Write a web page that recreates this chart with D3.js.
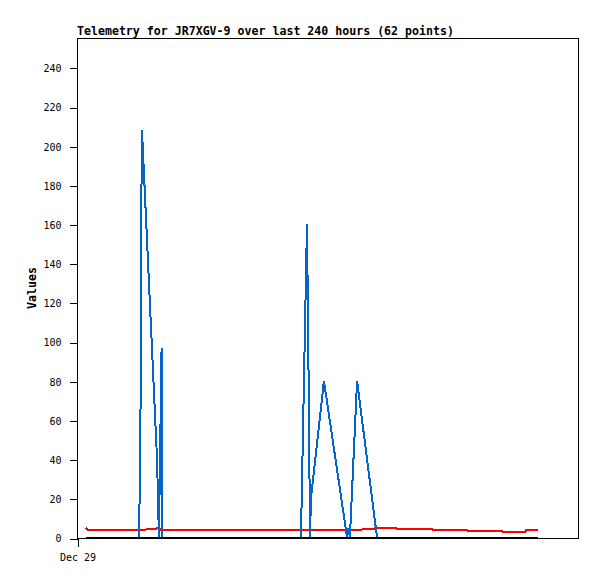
<!DOCTYPE html>
<html>
<head>
<meta charset="utf-8">
<script src="https://cdn.jsdelivr.net/npm/d3@7"></script>
<style>
  body { margin: 0; background: #fff; }
  svg { display: block; }
  text { font-family: "DejaVu Sans Mono", monospace; }
</style>
</head>
<body>
<svg id="chart" width="597" height="579"></svg>
<script>
// series: hours after Dec 29 00:00 and values
const titleText = "Telemetry for JR7XGV-9 over last 240 hours (62 points)";
const yLabel = "Values";
const yTicks = [0, 20, 40, 60, 80, 100, 120, 140, 160, 180, 200, 220, 240];
const xTickLabels = ["Dec 29"];

const redHours  = [4.8, 5.8, 36.6, 37.2, 42.0, 42.5, 43.5, 44.1, 151.0, 152.0, 157.7, 158.3, 169.5, 170.0, 188.4, 189.0, 207.0, 207.6, 225.8, 226.4, 238.0, 238.4, 244.8];
const redValues = [5.0, 4.0, 4.0, 4.5, 4.5, 5.0, 5.0, 4.0, 4.0, 4.3, 4.3, 4.8, 4.8, 4.3, 4.3, 3.8, 3.8, 3.3, 3.3, 2.8, 2.8, 3.8, 3.8];

const blueHours  = [4.8, 32.9, 33.5, 34.0, 34.2, 34.5, 42.5, 43.5, 44.9, 45.1, 118.9, 122.1, 123.2, 123.7, 124.2, 131.1, 143.4, 144.1, 144.9, 148.7, 159.3, 244.8];
const blueValues = [0, 0, 35, 104, 174, 208, 40, 0, 97, 0, 0, 160, 60, 0, 20, 80, 0, 5, 0, 80, 0, 0];

const blackHours  = [4.8, 244.8];
const blackValues = [0, 0];

const svg = d3.select("#chart");
const mLeft = 77, mRight = 578, mTop = 38, mBottom = 538;

const t0 = new Date(2023, 11, 29, 0, 0, 0);
const toDate = h => new Date(t0.getTime() + h * 3600e3);

const x = d3.scaleTime()
  .domain([t0, toDate(266)])
  .range([mLeft, mRight]);

const y = d3.scaleLinear()
  .domain([0, 255.3])
  .range([mBottom, mTop]);

// frame
svg.append("rect")
  .attr("x", mLeft + 0.5).attr("y", mTop + 0.5)
  .attr("width", mRight - mLeft).attr("height", mBottom - mTop)
  .attr("fill", "none").attr("stroke", "#000").attr("stroke-width", 1)
  .attr("shape-rendering", "crispEdges");

// y axis
const yAxis = d3.axisLeft(y).tickValues(yTicks).tickSize(8).tickPadding(8).tickFormat(d3.format("d"));
const gy = svg.append("g").attr("transform", `translate(${mLeft + 0.5},0.5)`).call(yAxis);
gy.select(".domain").remove();
gy.selectAll("line").attr("shape-rendering", "crispEdges");
gy.selectAll("text").attr("font-size", 10).attr("font-family", "DejaVu Sans Mono, monospace");

// x axis
const xAxis = d3.axisBottom(x).tickValues([t0]).tickSize(8).tickPadding(7)
  .tickFormat((d, i) => xTickLabels[i]);
const gx = svg.append("g").attr("transform", `translate(0.5,${mBottom + 0.5})`).call(xAxis);
gx.select(".domain").remove();
gx.selectAll("line").attr("shape-rendering", "crispEdges");
gx.selectAll("text").attr("font-size", 10).attr("font-family", "DejaVu Sans Mono, monospace");

// lines
const line = d3.line().x(d => x(toDate(d[0]))).y(d => y(d[1]));
const series = [
  { h: redHours, v: redValues, color: "#ff0000" },
  { h: blueHours, v: blueValues, color: "#0066cc" },
  { h: blackHours, v: blackValues, color: "#000000" }
];
series.forEach(s => {
  svg.append("path")
    .datum(s.h.map((h, i) => [h, s.v[i]]))
    .attr("d", line)
    .attr("fill", "none")
    .attr("stroke", s.color)
    .attr("stroke-width", 2)
    .attr("shape-rendering", "crispEdges")
    .attr("transform", "translate(0,-0.5)");
});

// title
svg.append("text")
  .attr("x", mLeft).attr("y", 35)
  .attr("font-size", 11.6).attr("font-weight", "bold")
  .text(titleText);

// y label
svg.append("text")
  .attr("transform", `translate(36,${(mTop + mBottom) / 2}) rotate(-90)`)
  .attr("text-anchor", "middle")
  .attr("font-size", 11.6).attr("font-weight", "bold")
  .text(yLabel);
</script>
</body>
</html>
